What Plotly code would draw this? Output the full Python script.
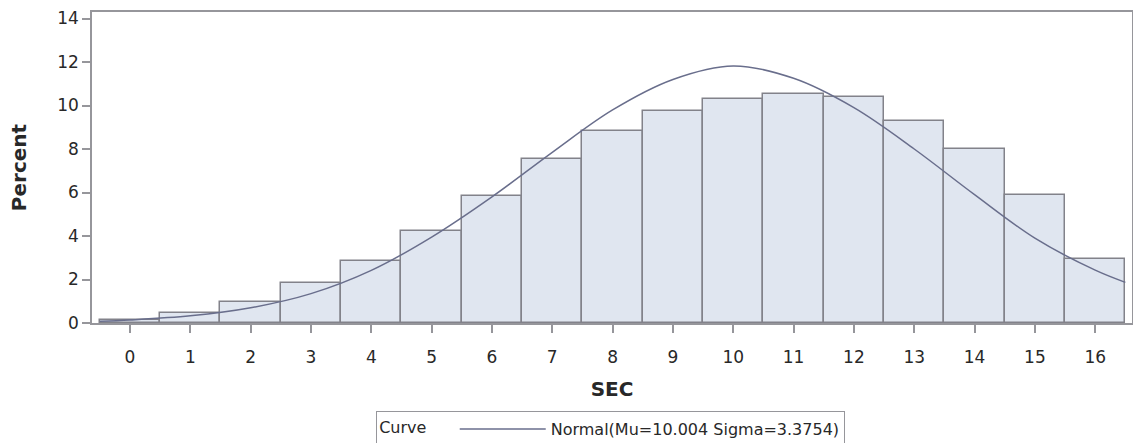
import plotly.graph_objects as go

# histogram bins (centered on integer SEC values) and their percentages
sec_bins = list(range(17))
pct = [0.15, 0.45, 0.98, 1.82, 2.84, 4.23, 5.84, 7.52, 8.81, 9.77,
       10.31, 10.54, 10.41, 9.28, 7.98, 5.87, 2.94]

# fitted normal curve
curve_x = [-0.5, 0, 1, 2, 3, 4, 5, 6, 7, 8, 9, 10, 11, 12, 13, 14, 15, 16, 16.5]
curve_y = [0.08, 0.14, 0.33, 0.70, 1.35, 2.42, 3.95, 5.80, 7.85, 9.80, 11.20,
           11.82, 11.25, 9.90, 8.00, 5.90, 3.90, 2.43, 1.87]
curve_name = "Normal(Mu=10.004 Sigma=3.3754)"

y_ticks = [0, 2, 4, 6, 8, 10, 12, 14]

FONT = "DejaVu Sans"
GRAY = "rgb(150,150,155)"

fig = go.Figure()
fig.add_trace(go.Bar(
    x=sec_bins, y=pct, width=1, showlegend=False,
    marker=dict(color="rgb(224,230,240)", line=dict(color="rgb(130,130,138)", width=1.5)),
))
fig.add_trace(go.Scatter(
    x=curve_x, y=curve_y, mode="lines", name=curve_name,
    line=dict(color="rgb(105,110,140)", width=1.5, shape="spline"),
))

fig.update_layout(
    width=1133, height=443,
    margin=dict(l=92, r=1, t=12, b=120),
    paper_bgcolor="white", plot_bgcolor="white",
    font=dict(family=FONT, size=16, color="rgb(40,40,40)"),
    bargap=0,
    legend=dict(
        orientation="h", xref="container", yref="container",
        x=0.539, xanchor="center", y=0.072, yanchor="top",
        bordercolor=GRAY, borderwidth=1, bgcolor="white",
        title=dict(text="Curve    ", side="left", font=dict(family=FONT, size=16)),
        font=dict(family=FONT, size=16), itemwidth=86,
    ),
    xaxis=dict(
        range=[-0.63, 16.61], tickmode="array", tickvals=sec_bins,
        ticks="outside", ticklen=8, tickcolor=GRAY, tickwidth=1.5,
        showline=True, linecolor=GRAY, linewidth=1.5, mirror=True,
        showgrid=False, zeroline=False, ticklabelstandoff=10, automargin=False,
        tickfont=dict(family=FONT, size=17),
        title=dict(text="<b>SEC</b>", font=dict(family=FONT, size=20), standoff=16),
    ),
    yaxis=dict(
        range=[0, 14.3], tickmode="array", tickvals=y_ticks,
        ticks="outside", ticklen=8, tickcolor=GRAY, tickwidth=1.5,
        showline=True, linecolor=GRAY, linewidth=1.5, mirror=True,
        showgrid=False, zeroline=False, automargin=False,
        tickfont=dict(family=FONT, size=17),
        title=dict(text="<b>Percent</b>", font=dict(family=FONT, size=20), standoff=25),
    ),
)

# drop the page's default body margin so the figure fills the window
fig.write_html("out.html", config={"displayModeBar": False},
               post_script="document.body.style.margin='0';")
